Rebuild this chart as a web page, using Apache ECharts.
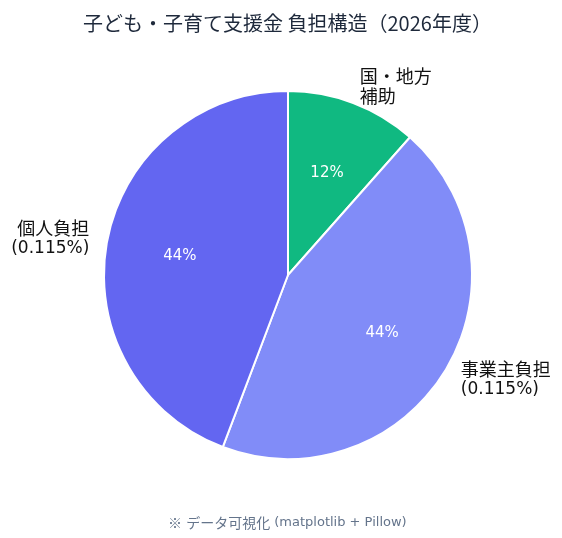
<!DOCTYPE html>
<html><head><meta charset="utf-8">
<script src="https://cdn.jsdelivr.net/npm/echarts@6/dist/echarts.min.js"></script>
<style>html,body{margin:0;padding:0;background:#fff}#c{width:562px;height:538px}</style>
</head><body><div id="c"></div>
<script>
const categories = ['国・地方\n補助', '事業主負担\n(0.115%)', '個人負担\n(0.115%)'];
const values = [0.03, 0.115, 0.115];
const colors = ['#10b981', '#818cf8', '#6366f1'];
const titleText = '子ども・子育て支援金 負担構造（2026年度）';
const footerText = '※ データ可視化 (matplotlib + Pillow)';

const CJK = '"Noto Sans CJK JP", sans-serif';
const LAT = '"DejaVu Sans", "Noto Sans CJK JP", sans-serif';
const cx = 288, cy = 275, R = 184;
const total = values.reduce((a, b) => a + b, 0);
const data = categories.map((n, i) => ({ name: n, value: values[i], itemStyle: { color: colors[i] } }));

function richText(text) {
  return text.split('\n').map(line =>
    (line.match(/[\x00-\x7F]+|[^\x00-\x7F]+/g) || []).map(run =>
      (/^[\x00-\x7F]+$/.test(run) ? '{l|' : '{c|') + run + '}').join('')
  ).join('\n');
}

const chart = echarts.init(document.getElementById('c'), null, { renderer: 'canvas' });
chart.setOption({
  animation: false,
  backgroundColor: '#ffffff',
  title: [
    { text: titleText, left: 78, top: 8,
      textStyle: { fontFamily: CJK, fontSize: 20, fontWeight: 'normal', color: '#1e293b' } },
    { text: richText(footerText), left: 163, top: 511,
      textStyle: { fontWeight: 'normal', color: '#64748b',
        rich: {
          c: { fontFamily: CJK, fontSize: 14, color: '#64748b' },
          l: { fontFamily: LAT, fontSize: 13, color: '#64748b' }
        } } }
  ],
  series: [
    {
      type: 'pie', center: [cx, cy], radius: [0, R], startAngle: 90, clockwise: true,
      avoidLabelOverlap: false,
      itemStyle: { borderColor: '#ffffff', borderWidth: 2 },
      label: {
        show: true, position: 'outside', color: '#111111', lineHeight: 20, distanceToLabelLine: 0,
        formatter: p => richText(p.name),
        rich: {
          c: { fontFamily: CJK, fontSize: 18, lineHeight: 20, color: '#111111' },
          l: { fontFamily: LAT, fontSize: 17, lineHeight: 20, color: '#111111' }
        }
      },
      labelLine: { show: false, length: 18, length2: 0 },
      emphasis: { disabled: true },
      data: data
    },
    {
      type: 'pie', center: [cx, cy + 1], radius: [0, 214], startAngle: 90, clockwise: true,
      silent: true, avoidLabelOverlap: false,
      itemStyle: { color: 'rgba(0,0,0,0)' },
      label: { show: true, position: 'inside', fontFamily: LAT, fontSize: 15, color: '#ffffff',
        formatter: p => Math.round(p.value / total * 100) + '%' },
      labelLine: { show: false },
      emphasis: { disabled: true },
      data: values.map((v, i) => ({ name: 'p' + i, value: v }))
    }
  ]
});
</script></body></html>
